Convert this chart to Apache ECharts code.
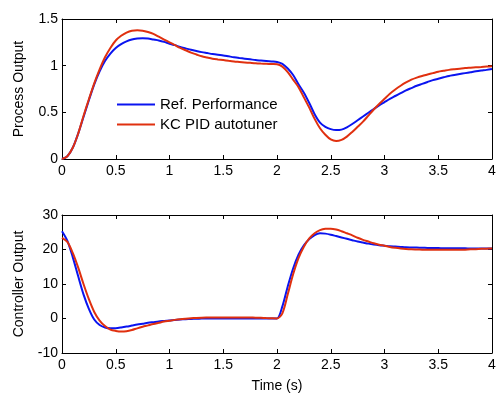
<!DOCTYPE html>
<html>
<head>
<meta charset="utf-8">
<script src="https://cdn.jsdelivr.net/npm/echarts@6/dist/echarts.min.js"></script>
<style>html,body{margin:0;padding:0;background:#fff}#c{width:499px;height:394px}</style>
</head>
<body>
<div id="c"></div>
<script>
var times = [
  0,0.05,0.1,0.15,0.2,0.25,0.3,0.35,0.4,0.45,
  0.5,0.55,0.6,0.65,0.7,0.75,0.8,0.85,0.9,0.95,
  1.0,1.05,1.1,1.15,1.2,1.25,1.3,1.35,1.4,1.45,
  1.5,1.55,1.6,1.65,1.7,1.75,1.8,1.85,1.9,1.95,
  2.0,2.05,2.1,2.15,2.2,2.25,2.3,2.35,2.4,2.45,
  2.5,2.55,2.6,2.65,2.7,2.75,2.8,2.85,2.9,2.95,
  3.0,3.05,3.1,3.15,3.2,3.25,3.3,3.35,3.4,3.45,
  3.5,3.55,3.6,3.65,3.7,3.75,3.8,3.85,3.9,3.95,
  4.0];
var seriesNames = ['Ref. Performance', 'KC PID autotuner'];
var processRef = [
  0,0.03,0.12,0.27,0.45,0.63,0.80,0.94,1.05,1.13,
  1.19,1.23,1.26,1.28,1.29,1.295,1.29,1.28,1.27,1.255,
  1.235,1.22,1.20,1.185,1.17,1.157,1.145,1.135,1.125,1.117,
  1.11,1.10,1.09,1.082,1.075,1.068,1.06,1.055,1.05,1.045,
  1.04,1.02,0.97,0.90,0.80,0.71,0.60,0.48,0.39,0.345,
  0.32,0.31,0.315,0.34,0.375,0.415,0.455,0.495,0.535,0.575,
  0.61,0.645,0.675,0.705,0.735,0.76,0.785,0.805,0.825,0.845,
  0.86,0.875,0.89,0.90,0.91,0.92,0.93,0.94,0.948,0.955,
  0.965];
var processKC = [
  0,0.03,0.12,0.27,0.46,0.64,0.81,0.96,1.09,1.19,
  1.27,1.32,1.355,1.375,1.38,1.375,1.36,1.34,1.31,1.28,
  1.25,1.22,1.19,1.165,1.14,1.12,1.10,1.087,1.075,1.067,
  1.06,1.052,1.045,1.04,1.035,1.03,1.025,1.022,1.02,1.017,
  1.015,0.99,0.93,0.85,0.77,0.66,0.55,0.43,0.33,0.26,
  0.21,0.193,0.205,0.24,0.29,0.345,0.40,0.465,0.53,0.59,
  0.645,0.70,0.745,0.785,0.82,0.85,0.872,0.89,0.905,0.92,
  0.935,0.945,0.955,0.962,0.968,0.974,0.978,0.982,0.986,0.99,
  0.993];
var controlRef = [
  25.3,22.5,17.8,12.3,7.0,2.8,-0.3,-1.9,-2.6,-2.85,
  -2.8,-2.6,-2.35,-2.05,-1.75,-1.5,-1.25,-1.05,-0.85,-0.7,
  -0.55,-0.42,-0.3,-0.2,-0.12,-0.06,-0.02,0,0,0,
  0,0,0,0,0,0,0,0,0,0,
  0,3.5,9.3,14.5,18.5,21.2,23.0,24.2,24.7,24.6,
  24.3,23.9,23.5,23.1,22.7,22.3,22.0,21.7,21.45,21.25,
  21.1,20.95,20.85,20.75,20.65,20.6,20.55,20.5,20.45,20.42,
  20.4,20.38,20.36,20.35,20.34,20.33,20.32,20.31,20.3,20.3,
  20.3];
var controlKC = [
  23.4,22.2,19.0,14.8,10.0,5.6,1.9,-0.6,-2.2,-3.2,
  -3.6,-3.8,-3.7,-3.35,-2.85,-2.4,-2.0,-1.6,-1.25,-0.9,
  -0.65,-0.4,-0.2,-0.05,0.08,0.18,0.25,0.28,0.3,0.3,
  0.3,0.3,0.3,0.3,0.3,0.28,0.25,0.2,0.12,0.05,
  0,1.5,7.0,12.8,17.5,20.8,23.2,24.7,25.6,26.0,
  26.05,25.8,25.3,24.7,24.1,23.4,22.8,22.3,21.8,21.4,
  21.1,20.75,20.5,20.3,20.15,20.05,20.0,19.95,19.9,19.9,
  19.9,19.9,19.9,19.9,19.9,19.95,20.05,20.1,20.2,20.25,
  20.3];
var xTickInterval = 0.5;
var processTicks = {min: 0, max: 1.5, interval: 0.5};
var controlTicks = {min: -10, max: 30, interval: 10};

function pairs(vals){ return times.map(function(t,i){ return [t, vals[i]]; }); }

var FONT = 'Liberation Sans, Arial, Helvetica, sans-serif';
var FS = 14;
var BLUE = '#0a14f0';
var RED = '#e0300f';
var lineAx = {show: true, onZero: false, lineStyle: {color: '#000', width: 1}};
var tickIn = {show: true, inside: true, length: 4, lineStyle: {color: '#000'}};

function xMain(gi, name){
  return {gridIndex: gi, type: 'value', position: 'bottom', min: 0, max: 4, interval: xTickInterval,
    axisLine: lineAx, axisTick: tickIn,
    axisLabel: {color: '#000', fontSize: FS, fontFamily: FONT, margin: 5},
    splitLine: {show: false},
    name: name || '', nameLocation: 'middle', nameGap: 26,
    nameTextStyle: {color: '#000', fontSize: FS, fontFamily: FONT}};
}
function xTop(gi){
  return {gridIndex: gi, type: 'value', position: 'top', min: 0, max: 4, interval: xTickInterval,
    axisLine: lineAx, axisTick: tickIn,
    axisLabel: {show: false}, splitLine: {show: false}};
}
function yMain(gi, t, name){
  return {gridIndex: gi, type: 'value', position: 'left', min: t.min, max: t.max, interval: t.interval,
    axisLine: lineAx, axisTick: tickIn,
    axisLabel: {color: '#000', fontSize: FS, fontFamily: FONT, margin: 4},
    splitLine: {show: false},
    name: name, nameLocation: 'middle', nameGap: 36, nameRotate: 90,
    nameTextStyle: {color: '#000', fontSize: FS, fontFamily: FONT}};
}
function yRight(gi, t){
  return {gridIndex: gi, type: 'value', position: 'right', min: t.min, max: t.max, interval: t.interval,
    axisLine: lineAx, axisTick: tickIn,
    axisLabel: {show: false}, splitLine: {show: false}};
}
function ser(name, xi, yi, vals, color){
  return {name: name, type: 'line', xAxisIndex: xi, yAxisIndex: yi, data: pairs(vals),
    smooth: 0.3, showSymbol: false, symbol: 'none', animation: false,
    lineStyle: {color: color, width: 2}, itemStyle: {color: color}};
}

var chart = echarts.init(document.getElementById('c'), null, {renderer: 'canvas'});
chart.setOption({
  backgroundColor: '#fff',
  animation: false,
  grid: [
    {left: 62, top: 19, width: 430, height: 140},
    {left: 62, top: 215, width: 430, height: 141}
  ],
  xAxis: [xMain(0), xTop(0), xMain(1, 'Time (s)'), xTop(1)],
  yAxis: [yMain(0, processTicks, 'Process Output'), yRight(0, processTicks),
          yMain(1, controlTicks, 'Controller Output'), yRight(1, controlTicks)],
  legend: {
    data: seriesNames, orient: 'vertical', left: 117, top: 97, padding: 0,
    icon: 'rect', itemWidth: 38, itemHeight: 2, itemGap: 5,
    textStyle: {color: '#000', fontSize: 15, fontFamily: FONT}
  },
  series: [
    ser(seriesNames[0], 0, 0, processRef, BLUE),
    ser(seriesNames[1], 0, 0, processKC, RED),
    ser(seriesNames[0], 2, 2, controlRef, BLUE),
    ser(seriesNames[1], 2, 2, controlKC, RED)
  ]
});
</script>
</body>
</html>
